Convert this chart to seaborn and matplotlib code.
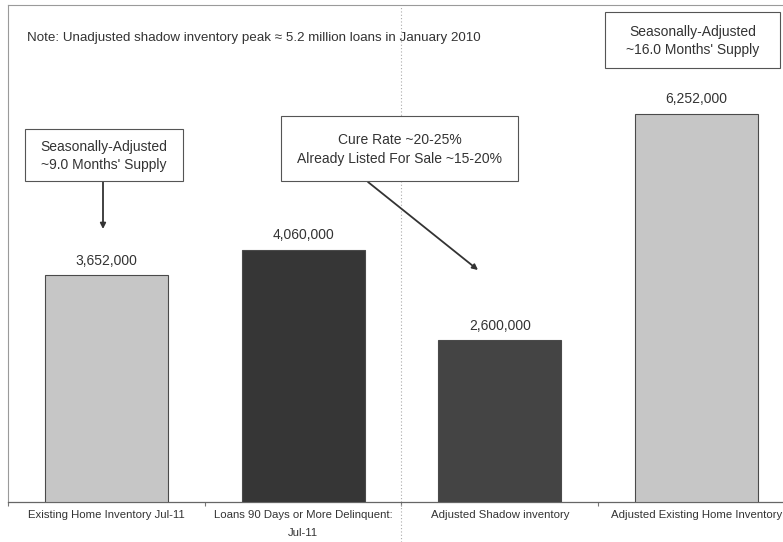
import matplotlib
matplotlib.use("Agg")
import matplotlib.pyplot as plt
from matplotlib.patches import Rectangle
import seaborn as sns
import pandas as pd

categories = ["Existing Home Inventory Jul-11",
              "Loans 90 Days or More Delinquent:\nJul-11",
              "Adjusted Shadow inventory",
              "Adjusted Existing Home Inventory"]
values = [3652000, 4060000, 2600000, 6252000]
colors = ["#c6c6c6", "#363636", "#444444", "#c6c6c6"]
value_labels = ["3,652,000", "4,060,000", "2,600,000", "6,252,000"]
note = "Note: Unadjusted shadow inventory peak \u2248 5.2 million loans in January 2010"
box_left = "Seasonally-Adjusted\n~9.0 Months' Supply"
box_mid = "Cure Rate ~20-25%\nAlready Listed For Sale ~15-20%"
box_right = "Seasonally-Adjusted\n~16.0 Months' Supply"

sns.set_theme(style="white")
plt.rcParams['font.family'] = ['Liberation Sans', 'DejaVu Sans']

W, H = 783, 542
fig = plt.figure(figsize=(W / 100, H / 100), dpi=100)
def px(x, y):
    return (x / W, 1 - y / H)

ax = fig.add_axes([8 / W, (H - 502) / H, (795 - 8) / W, (502 - 5) / H])
df = pd.DataFrame({"cat": categories, "val": values})
sns.barplot(data=df, x="cat", y="val", hue="cat", palette=colors, width=0.625,
            edgecolor="#4a4a4a", linewidth=0.8, legend=False, ax=ax, zorder=3)
ax.set_xlim(-0.5, 3.5)
ax.set_ylim(0, 8.0e6)
ax.set_xlabel("")
ax.set_ylabel("")
ax.set_yticks([])
ax.set_xticks(range(4))
ax.set_xticklabels(categories, fontsize=8.2, color="#333333", linespacing=1.95)
ax.set_xticks([-0.5, 0.5, 1.5, 2.5], minor=True)
ax.tick_params(axis="x", which="major", length=0, pad=6)
ax.tick_params(axis="x", which="minor", length=3, color="#777777", width=0.8, bottom=True)
ax.spines["right"].set_visible(False)
for s in ["top", "left"]:
    ax.spines[s].set_color("#9a9a9a")
    ax.spines[s].set_linewidth(0.8)
    ax.spines[s].set_linestyle((0, (2, 1)))
ax.spines["bottom"].set_color("#666666")
ax.spines["bottom"].set_linewidth(0.9)

# dotted vertical separator
ax.axvline(1.5, ymin=-0.08, ymax=1, color="#aaaaaa", lw=0.8, ls=(0, (1, 2)), clip_on=False, zorder=1)

for i, (v, lab) in enumerate(zip(values, value_labels)):
    ax.text(i, v + 0.12e6, lab, ha="center", va="bottom", fontsize=10, color="#333333")

fig.text(*px(27, 38), note, fontsize=9.6, color="#333333", va="center", ha="left")

def box(x0, y0, x1, y1, text):
    fig.patches.append(Rectangle(px(x0, y1), (x1 - x0) / W, (y1 - y0) / H,
                                 transform=fig.transFigure, fc="white", ec="#555555",
                                 lw=0.8, zorder=5))
    fig.text(*px((x0 + x1) / 2, (y0 + y1) / 2 + 1), text, fontsize=10, color="#333333",
             ha="center", va="center", linespacing=1.45, zorder=6)

box(25, 129, 183, 181, box_left)
box(281, 116, 518, 181, box_mid)
box(605, 12, 780, 68, box_right)

arrow = dict(arrowstyle="-|>", color="#333333", lw=1.3, mutation_scale=8, shrinkA=0, shrinkB=0)
ax.annotate("", xy=px(103, 229), xytext=px(103, 182), xycoords="figure fraction",
            textcoords="figure fraction", arrowprops=arrow, annotation_clip=False)
ax.annotate("", xy=px(478, 270), xytext=px(368, 182), xycoords="figure fraction",
            textcoords="figure fraction", arrowprops=arrow, annotation_clip=False)

fig.savefig("out.png", dpi=100)
